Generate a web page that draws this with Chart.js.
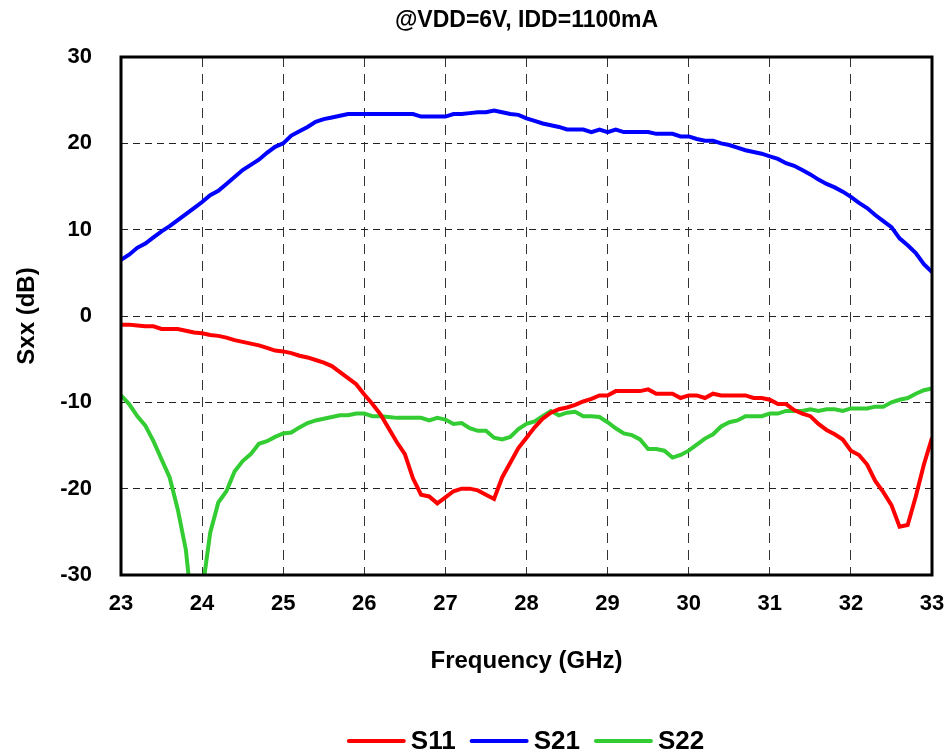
<!DOCTYPE html>
<html>
<head>
<meta charset="utf-8">
<title>Sxx vs Frequency</title>
<script src="https://cdn.jsdelivr.net/npm/chart.js"></script>
<style>
  html, body { margin: 0; padding: 0; background: #fff; }
  #chart { display: block; }
</style>
</head>
<body>
<canvas id="chart" width="949" height="753"></canvas>
<script>
const FONT = "'Liberation Sans', Arial, sans-serif";

const TITLE = "@VDD=6V, IDD=1100mA";
const X_TITLE = "Frequency (GHz)";
const Y_TITLE = "Sxx (dB)";
const SERIES_NAMES = ["S11", "S21", "S22"];
const SERIES_COLORS = ["#ff0000", "#0000ff", "#33cc33"];

// frequency points (GHz)
const freq = [
  23.0, 23.1, 23.2, 23.3, 23.4, 23.5, 23.6, 23.7, 23.8, 23.9,
  24.0, 24.1, 24.2, 24.3, 24.4, 24.5, 24.6, 24.7, 24.8, 24.9,
  25.0, 25.1, 25.2, 25.3, 25.4, 25.5, 25.6, 25.7, 25.8, 25.9,
  26.0, 26.1, 26.2, 26.3, 26.4, 26.5, 26.6, 26.7, 26.8, 26.9,
  27.0, 27.1, 27.2, 27.3, 27.4, 27.5, 27.6, 27.7, 27.8, 27.9,
  28.0, 28.1, 28.2, 28.3, 28.4, 28.5, 28.6, 28.7, 28.8, 28.9,
  29.0, 29.1, 29.2, 29.3, 29.4, 29.5, 29.6, 29.7, 29.8, 29.9,
  30.0, 30.1, 30.2, 30.3, 30.4, 30.5, 30.6, 30.7, 30.8, 30.9,
  31.0, 31.1, 31.2, 31.3, 31.4, 31.5, 31.6, 31.7, 31.8, 31.9,
  32.0, 32.1, 32.2, 32.3, 32.4, 32.5, 32.6, 32.7, 32.8, 32.9,
  33.0
];

// S11 (dB)
const s11 = [
  -1.0, -1.0, -1.1, -1.2, -1.2, -1.5, -1.5, -1.5, -1.7, -1.9,
  -2.0, -2.2, -2.3, -2.5, -2.8, -3.0, -3.2, -3.4, -3.7, -4.0,
  -4.1, -4.3, -4.6, -4.8, -5.1, -5.4, -5.8, -6.5, -7.2, -7.9,
  -9.1, -10.2, -11.4, -13.0, -14.6, -16.0, -18.8, -20.7, -20.9, -21.7,
  -21.0, -20.3, -20.0, -20.0, -20.2, -20.7, -21.2, -18.7, -17.0, -15.3,
  -14.1, -12.9, -11.9, -11.2, -10.8, -10.6, -10.3, -9.9, -9.6, -9.2,
  -9.2, -8.7, -8.7, -8.7, -8.7, -8.5, -9.0, -9.0, -9.0, -9.5,
  -9.2, -9.2, -9.5, -9.0, -9.2, -9.2, -9.2, -9.2, -9.5, -9.5,
  -9.7, -10.2, -10.2, -10.9, -11.3, -11.6, -12.5, -13.2, -13.7, -14.3,
  -15.6, -16.1, -17.2, -19.1, -20.4, -21.9, -24.4, -24.2, -20.9, -17.2,
  -14.1
];

// S21 (dB)
const s21 = [
  6.5, 7.1, 7.9, 8.4, 9.1, 9.8, 10.4, 11.1, 11.8, 12.5,
  13.2, 14.0, 14.5, 15.3, 16.1, 16.9, 17.5, 18.1, 18.9, 19.6,
  20.0, 20.9, 21.4, 21.9, 22.5, 22.8, 23.0, 23.2, 23.4, 23.4,
  23.4, 23.4, 23.4, 23.4, 23.4, 23.4, 23.4, 23.1, 23.1, 23.1,
  23.1, 23.4, 23.4, 23.5, 23.6, 23.6, 23.8, 23.6, 23.4, 23.3,
  22.9, 22.6, 22.3, 22.1, 21.9, 21.6, 21.6, 21.6, 21.3, 21.6,
  21.3, 21.6, 21.3, 21.3, 21.3, 21.3, 21.1, 21.1, 21.1, 20.8,
  20.8, 20.5, 20.3, 20.3, 20.0, 19.8, 19.5, 19.2, 19.0, 18.8,
  18.5, 18.2, 17.7, 17.4, 16.9, 16.4, 15.8, 15.3, 14.9, 14.4,
  13.8, 13.1, 12.5, 11.7, 11.0, 10.3, 9.0, 8.2, 7.3, 6.0,
  5.1
];

// S22 (dB)
const s22 = [
  -9.2, -10.2, -11.6, -12.7, -14.5, -16.6, -18.7, -22.4, -27.1, -36.0,
  -32.0, -25.1, -21.6, -20.3, -18.0, -16.8, -16.0, -14.8, -14.5, -14.0,
  -13.6, -13.5, -12.9, -12.4, -12.1, -11.9, -11.7, -11.5, -11.5, -11.3,
  -11.3, -11.6, -11.6, -11.7, -11.8, -11.8, -11.8, -11.8, -12.1, -11.8,
  -12.0, -12.5, -12.4, -13.0, -13.3, -13.3, -14.1, -14.3, -14.0, -13.1,
  -12.5, -12.2, -11.6, -11.0, -11.5, -11.2, -11.1, -11.6, -11.6, -11.7,
  -12.3, -13.0, -13.6, -13.8, -14.3, -15.4, -15.4, -15.6, -16.4, -16.1,
  -15.6, -14.9, -14.2, -13.7, -12.8, -12.3, -12.1, -11.6, -11.6, -11.6,
  -11.3, -11.3, -11.0, -11.0, -11.0, -10.8, -11.0, -10.8, -10.8, -11.0,
  -10.7, -10.7, -10.7, -10.5, -10.5, -10.0, -9.7, -9.5, -9.0, -8.6,
  -8.4
];

const X_MIN = 23, X_MAX = 33, X_STEP = 1;
const Y_MIN = -30, Y_MAX = 30, Y_STEP = 10;

const seriesValues = [s11, s21, s22];

const datasets = seriesValues.map((vals, i) => ({
  label: SERIES_NAMES[i],
  data: freq.map((f, k) => ({ x: f, y: vals[k] })),
  borderColor: SERIES_COLORS[i],
  backgroundColor: SERIES_COLORS[i],
  borderWidth: 4,
  pointRadius: 0,
  fill: false,
  tension: 0,
}));

// title, legend and plot frame drawn around the chart area
const decorations = {
  id: "decorations",
  afterDraw(chart) {
    const { ctx, chartArea } = chart;
    const cx = (chartArea.left + chartArea.right) / 2;
    ctx.save();

    // frame
    ctx.strokeStyle = "#000";
    ctx.lineWidth = 3;
    ctx.strokeRect(chartArea.left, chartArea.top,
      chartArea.right - chartArea.left, chartArea.bottom - chartArea.top);

    // title
    ctx.fillStyle = "#000";
    ctx.font = "bold 23px " + FONT;
    ctx.textAlign = "center";
    ctx.textBaseline = "middle";
    ctx.fillText(TITLE, cx, 21);

    // legend
    const lineLen = 55, gap = 7, itemGap = 16, ly = 741;
    ctx.font = "bold 26px " + FONT;
    const widths = SERIES_NAMES.map(n => ctx.measureText(n).width);
    const total = widths.reduce((a, w) => a + lineLen + gap + w, 0) + itemGap * (SERIES_NAMES.length - 1);
    let x = cx - total / 2;
    ctx.textAlign = "left";
    SERIES_NAMES.forEach((name, i) => {
      ctx.strokeStyle = SERIES_COLORS[i];
      ctx.lineWidth = 4;
      ctx.lineCap = "round";
      ctx.beginPath();
      ctx.moveTo(x, ly);
      ctx.lineTo(x + lineLen, ly);
      ctx.stroke();
      ctx.fillStyle = "#000";
      ctx.fillText(name, x + lineLen + gap, ly + 1);
      x += lineLen + gap + widths[i] + itemGap;
    });
    ctx.restore();
  },
};

new Chart(document.getElementById("chart"), {
  type: "line",
  data: { datasets },
  plugins: [decorations],
  options: {
    responsive: false,
    animation: false,
    devicePixelRatio: 1,
    layout: { padding: { top: 57, right: 17, bottom: 0, left: 0 } },
    plugins: {
      legend: { display: false },
      title: { display: false },
      tooltip: { enabled: false },
    },
    scales: {
      x: {
        type: "linear",
        min: X_MIN,
        max: X_MAX,
        afterFit: (s) => {
          s.height = 178;
          s.paddingLeft = 0;
          s.paddingRight = 0;
        },
        ticks: {
          stepSize: X_STEP,
          color: "#000",
          font: { family: FONT, size: 22, weight: "bold" },
          padding: 16,
          maxRotation: 0,
          autoSkip: false,
        },
        grid: { color: "#333", lineWidth: 1, drawTicks: false },
        border: { display: false, dash: [10, 7] },
        title: {
          display: true,
          text: X_TITLE,
          color: "#000",
          font: { family: FONT, size: 24, weight: "bold" },
          padding: { top: 0, bottom: 77 },
        },
      },
      y: {
        type: "linear",
        min: Y_MIN,
        max: Y_MAX,
        afterFit: (s) => {
          s.width = 121;
          s.paddingTop = 0;
          s.paddingBottom = 0;
        },
        ticks: {
          stepSize: Y_STEP,
          color: "#000",
          font: { family: FONT, size: 22, weight: "bold" },
          padding: 29,
        },
        grid: { color: "#222", lineWidth: 1, drawTicks: false },
        border: { display: false, dash: [7, 5] },
        title: {
          display: true,
          text: Y_TITLE,
          color: "#000",
          font: { family: FONT, size: 24, weight: "bold" },
          padding: { top: 13, bottom: 0 },
        },
      },
    },
  },
});
</script>
</body>
</html>
